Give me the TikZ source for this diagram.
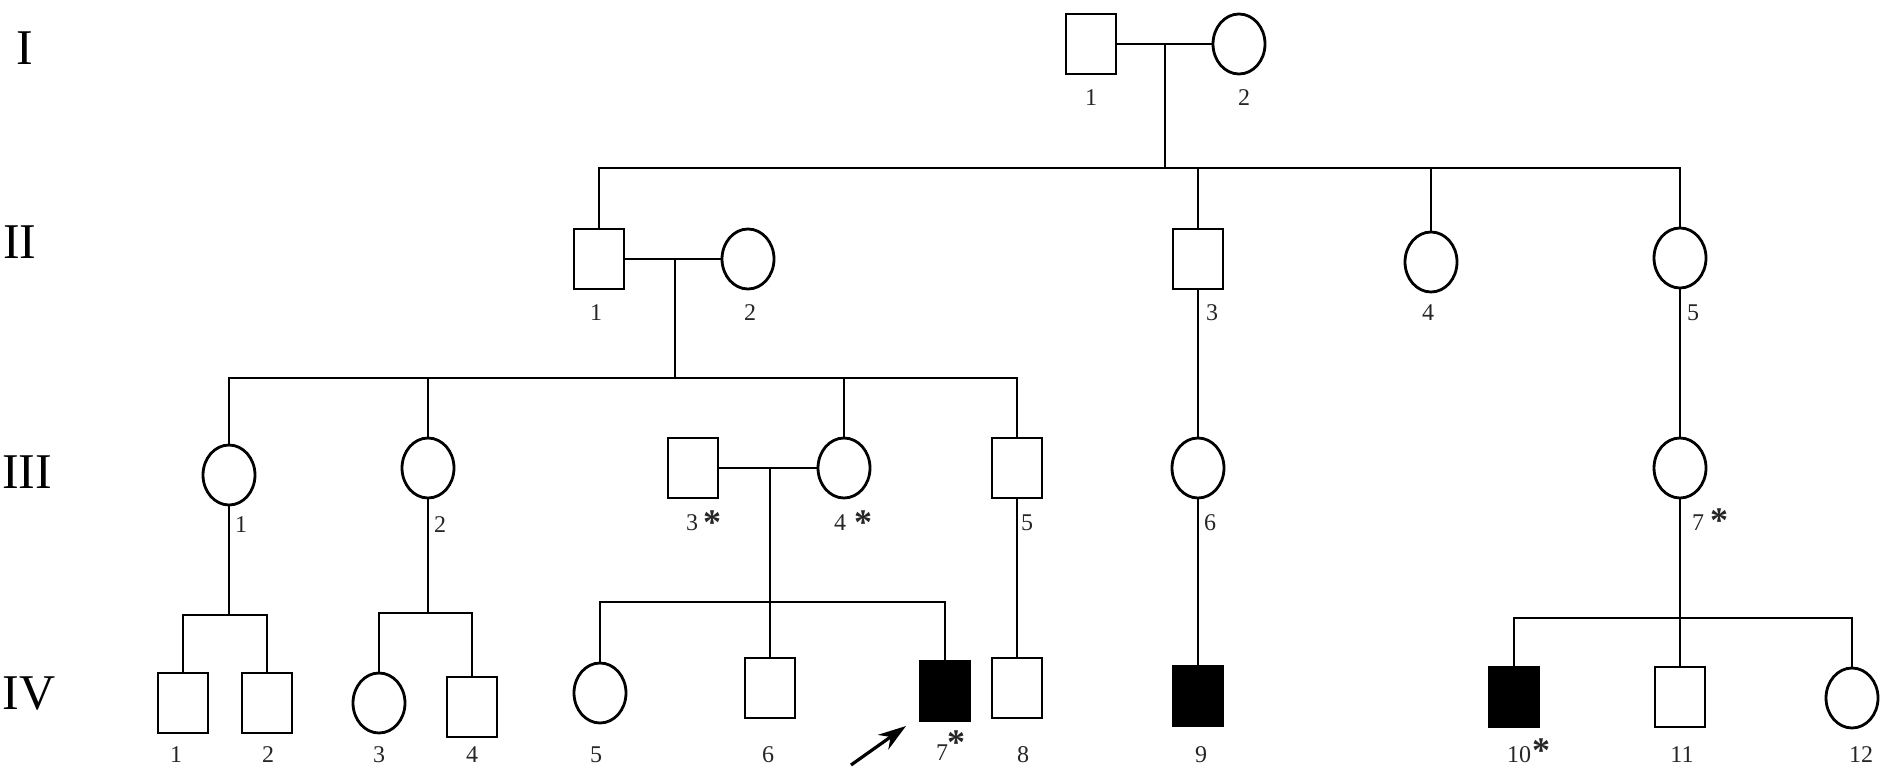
\documentclass[tikz,border=0pt]{standalone}
\usepackage{fontspec}
\setmainfont{Liberation Serif}
\usetikzlibrary{shapes.geometric,arrows.meta}
\begin{document}
\begin{tikzpicture}[x=1pt,y=-1pt,
 male/.style={draw, rectangle, minimum width=50pt, minimum height=60pt, line width=2.8pt, inner sep=0pt},
 female/.style={draw, ellipse, minimum width=52pt, minimum height=60pt, line width=2.8pt, inner sep=0pt},
 aff/.style={fill=black},
 ln/.style={line width=2.8pt},
 lbl/.style={font=\fontsize{24}{26}\selectfont, inner sep=0pt, text=black!85},
 gen/.style={font=\fontsize{50}{56}\selectfont, inner sep=0pt},
 ast/.style={font=\fontsize{36}{38}\selectfont\bfseries, inner sep=0pt, text=black!85}]
\useasboundingbox (0,0) rectangle (1881,779);

% generation labels
\node[gen] (gI) at (25,48) {I};
\node[gen] (gII) at (20,242) {II};
\node[gen] (gIII) at (27,472) {III};
\node[gen] (gIV) at (29,693) {IV};

% Generation I
\node[male] (I1) at (1091,44) {};
\node[female] (I2) at (1239,44) {};
\node[lbl] (lI1) at (1091,98) {1};
\node[lbl] (lI2) at (1244,98) {2};
\coordinate (m1) at (1165,44);
\coordinate (s1) at (1165,168);
\draw[ln] (I1.east) -- (I2.west);
\draw[ln] (m1) -- (s1);

% Generation II
\node[male] (II1) at (599,259) {};
\node[female] (II2) at (748,259) {};
\node[male] (II3) at (1198,259) {};
\node[female] (II4) at (1431,262) {};
\node[female] (II5) at (1680,258) {};
\node[lbl] (lII1) at (596,313) {1};
\node[lbl] (lII2) at (750,313) {2};
\node[lbl] (lII3) at (1212,313) {3};
\node[lbl] (lII4) at (1428,313) {4};
\node[lbl] (lII5) at (1693,313) {5};
\draw[ln] (II1.north) |- (II5.north |- s1) -- (II5.north);
\draw[ln] (II3.north) -- (II3.north |- s1);
\draw[ln] (II4.north) -- (II4.north |- s1);
\coordinate (m2) at (675,259);
\coordinate (s2) at (675,378);
\draw[ln] (II1.east) -- (II2.west);
\draw[ln] (m2) -- (s2);

% Generation III
\node[female] (III1) at (229,475) {};
\node[female] (III2) at (428,468) {};
\node[male] (III3) at (693,468) {};
\node[female] (III4) at (844,468) {};
\node[male] (III5) at (1017,468) {};
\node[female] (III6) at (1198,468) {};
\node[female] (III7) at (1680,468) {};
\node[lbl] (lIII1) at (241,525) {1};
\node[lbl] (lIII2) at (440,525) {2};
\node[lbl] (lIII3) at (692,523) {3};
\node[ast] (aIII3) at (712,522.5) {*};
\node[lbl] (lIII4) at (840,523) {4};
\node[ast] (aIII4) at (863,522.5) {*};
\node[lbl] (lIII5) at (1027,523) {5};
\node[lbl] (lIII6) at (1210,523) {6};
\node[lbl] (lIII7) at (1698,523) {7};
\node[ast] (aIII7) at (1719,520.5) {*};
\draw[ln] (III1.north) |- (III5.north |- s2) -- (III5.north);
\draw[ln] (III2.north) -- (III2.north |- s2);
\draw[ln] (III4.north) -- (III4.north |- s2);
\draw[ln] (II3.south) -- (III6.north);
\draw[ln] (II5.south) -- (III7.north);
\coordinate (m3) at (770,468);
\coordinate (s3) at (770,602);
\draw[ln] (III3.east) -- (III4.west);
\draw[ln] (m3) -- (s3);

% Generation IV
\node[male] (IV1) at (183,703) {};
\node[male] (IV2) at (267,703) {};
\node[female] (IV3) at (379,703) {};
\node[male] (IV4) at (472,707) {};
\node[female] (IV5) at (600,693) {};
\node[male] (IV6) at (770,688) {};
\node[male,aff] (IV7) at (945,691) {};
\node[male] (IV8) at (1017,688) {};
\node[male,aff] (IV9) at (1198,696) {};
\node[male,aff] (IV10) at (1514,697) {};
\node[male] (IV11) at (1680,697) {};
\node[female] (IV12) at (1852,698) {};
\node[lbl] (lIV1) at (176,755) {1};
\node[lbl] (lIV2) at (268,755) {2};
\node[lbl] (lIV3) at (379,755) {3};
\node[lbl] (lIV4) at (472,755) {4};
\node[lbl] (lIV5) at (596,755) {5};
\node[lbl] (lIV6) at (768,755) {6};
\node[lbl] (lIV7) at (942,753) {7};
\node[ast] (aIV7) at (956,742.5) {*};
\node[lbl] (lIV8) at (1023,755) {8};
\node[lbl] (lIV9) at (1201,755) {9};
\node[lbl] (lIV10) at (1519,755) {10};
\node[ast] (aIV10) at (1541,750.5) {*};
\node[lbl] (lIV11) at (1682,755) {11};
\node[lbl] (lIV12) at (1861,755) {12};

\coordinate (s41) at (229,615);
\draw[ln] (III1.south) -- (s41);
\draw[ln] (IV1.north) |- (s41) -| (IV2.north);
\coordinate (s42) at (428,613);
\draw[ln] (III2.south) -- (s42);
\draw[ln] (IV3.north) |- (s42) -| (IV4.north);
\draw[ln] (IV5.north) |- (s3) -| (IV7.north);
\draw[ln] (s3) -- (IV6.north);
\draw[ln] (III5.south) -- (IV8.north);
\draw[ln] (III6.south) -- (IV9.north);
\coordinate (s43) at (1680,618);
\draw[ln] (III7.south) -- (s43);
\draw[ln] (IV10.north) |- (s43) -| (IV12.north);
\draw[ln] (s43) -- (IV11.north);

% proband arrow
\coordinate (ar1) at (851,765);
\coordinate (ar2) at (906,726);
\draw[line width=3.2pt,-{Stealth[length=28pt,width=18pt]}] (ar1) -- (ar2);
\end{tikzpicture}
\end{document}
